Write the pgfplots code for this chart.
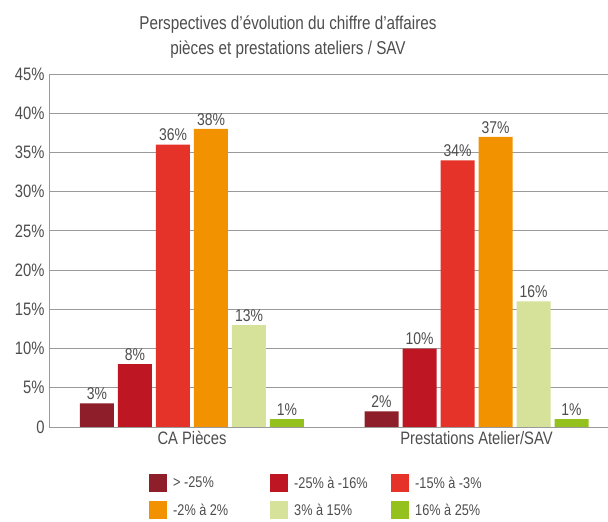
\documentclass[border=0pt]{standalone}
\usepackage{fontspec}
\setmainfont{Liberation Sans}[FakeStretch=0.82]
\usepackage{pgfplots}
\pgfplotsset{compat=1.18}
\definecolor{txt}{HTML}{4D4D4D}
\definecolor{gridc}{HTML}{9A9A9A}
\definecolor{c1}{HTML}{8E1F2A}
\definecolor{c2}{HTML}{BE1622}
\definecolor{c3}{HTML}{E5332A}
\definecolor{c4}{HTML}{F39200}
\definecolor{c5}{HTML}{D6E29A}
\definecolor{c6}{HTML}{95C11F}
\begin{document}
\begin{tikzpicture}
\useasboundingbox (0,0) rectangle (608pt,522pt);
\begin{axis}[
  at={(49pt,95pt)}, anchor=south west,
  scale only axis, width=559pt, height=353pt,
  xmin=-0.5026, xmax=1.4622, ymin=0, ymax=45,
  ybar, bar width=34pt, ybar=4pt,
  axis x line*=bottom, axis y line*=left,
  axis line style={gridc, line width=0.8pt},
  ymajorgrids, grid style={gridc, line width=0.8pt},
  major tick length=0pt,
  /pgf/number format/assume math mode=true,
  ytick={0,5,...,45},
  yticklabels={0,5\%,10\%,15\%,20\%,25\%,30\%,35\%,40\%,45\%},
  xtick={0,1}, xticklabels={CA Pièces,Prestations Atelier/SAV},
  ticklabel style={font=\fontsize{18pt}{20pt}\selectfont, text=txt},
  yticklabel style={xshift=-1pt},
  xticklabel style={yshift=-1pt},
  nodes near coords={\pgfmathprintnumber{\pgfplotspointmeta}\%},
  every node near coord/.append style={font=\fontsize{17pt}{19pt}\selectfont, text=txt, yshift=0pt},
  title={Perspectives d’évolution du chiffre d’affaires\\pièces et prestations ateliers / SAV},
  title style={at={(0.4275,1)}, anchor=south, yshift=6pt, align=center, font=\fontsize{18.6pt}{25pt}\selectfont, text=txt},
  legend columns=3,
  legend image code/.code={\fill[#1] (0pt,-9pt) rectangle (18pt,9pt);},
  legend style={at={(0.1789,-0.1331)}, anchor=north west, draw=none, fill=none, inner sep=0pt,
     row sep=9pt, nodes={inner sep=0pt, text=txt, font=\fontsize{15.5pt}{17pt}\selectfont},
     /tikz/every odd column/.style={column sep=6pt},
     /tikz/every even column/.style={column sep=6pt}},
]
\addplot[fill=c1, draw=none] coordinates {(0,3) (1,2)};
\addplot[fill=c2, draw=none] coordinates {(0,8) (1,10)};
\addplot[fill=c3, draw=none] coordinates {(0,36) (1,34)};
\addplot[fill=c4, draw=none] coordinates {(0,38) (1,37)};
\addplot[fill=c5, draw=none] coordinates {(0,13) (1,16)};
\addplot[fill=c6, draw=none] coordinates {(0,1) (1,1)};
\legend{\makebox[91pt][l]{> -25\%},\makebox[91pt][l]{-25\% à -16\%},\makebox[91pt][l]{-15\% à -3\%},\makebox[91pt][l]{-2\% à 2\%},\makebox[91pt][l]{3\% à 15\%},\makebox[91pt][l]{16\% à 25\%}}
\end{axis}
\end{tikzpicture}
\end{document}
